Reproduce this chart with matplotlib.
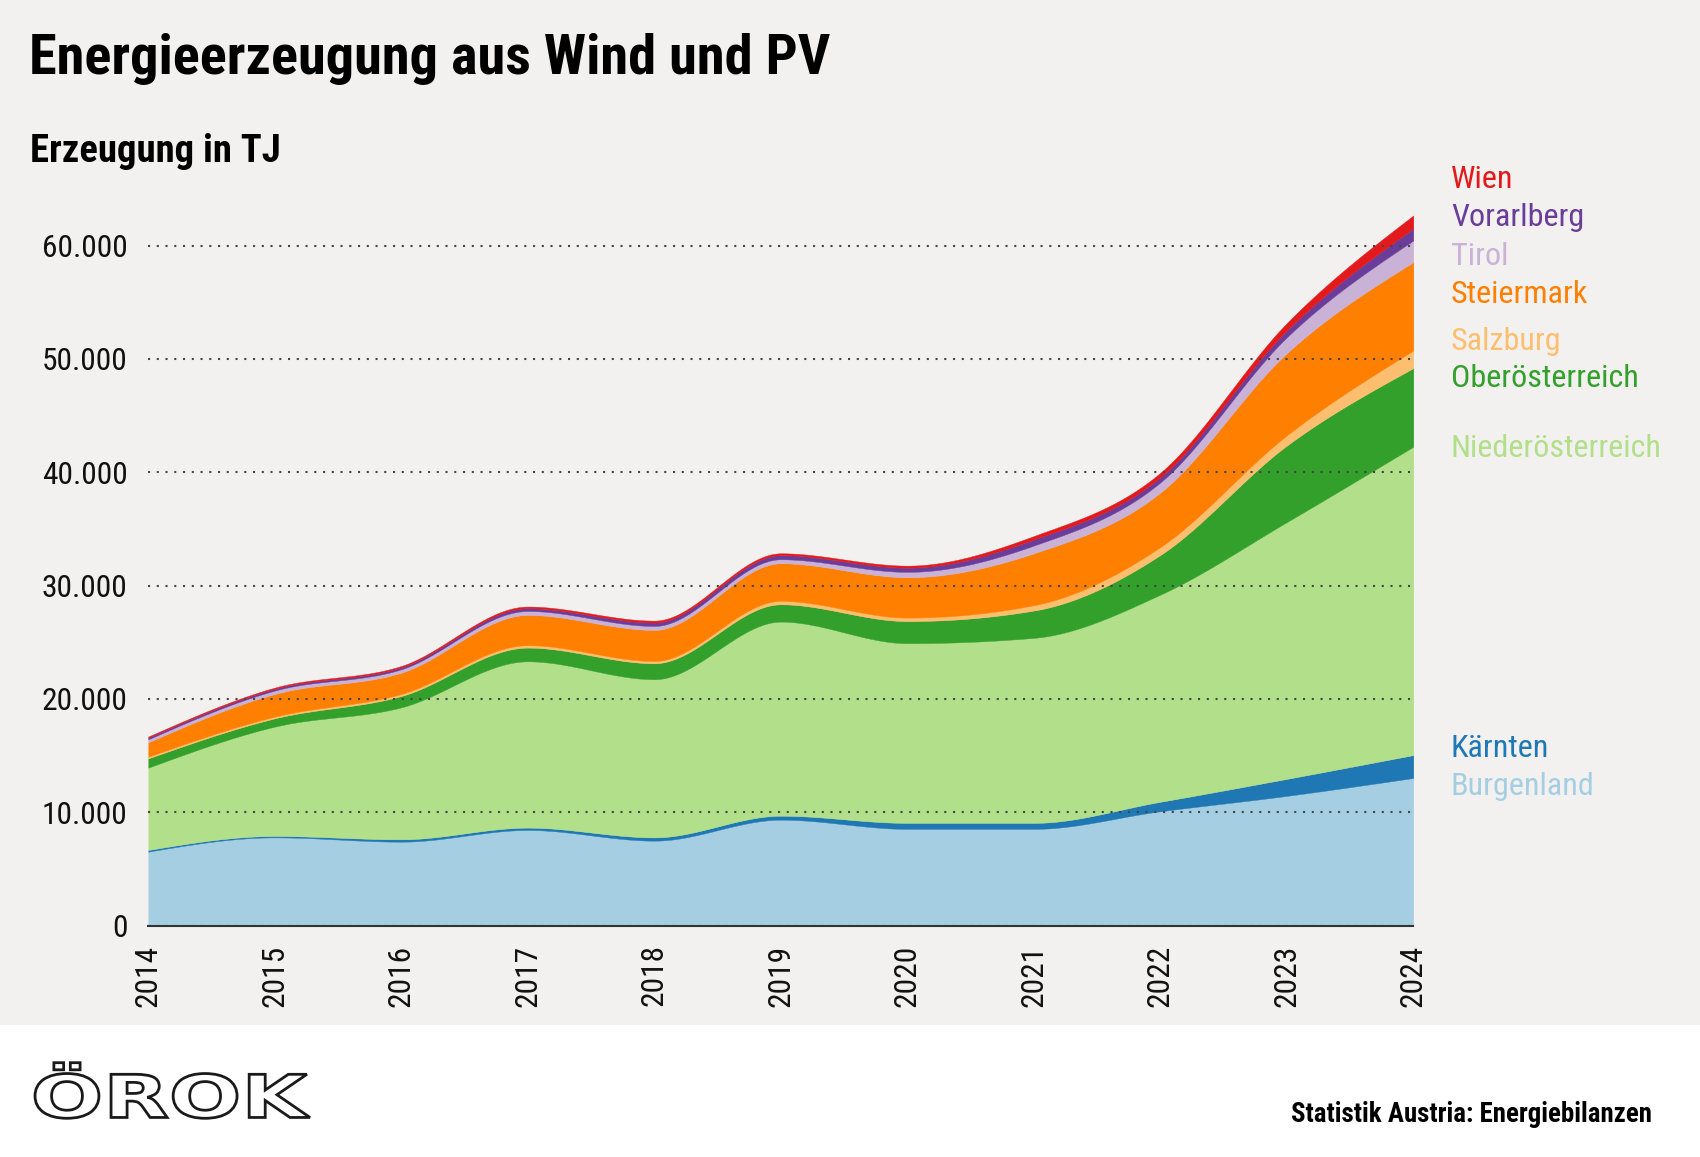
import numpy as np
import matplotlib
matplotlib.use("Agg")
import matplotlib.pyplot as plt
from matplotlib import font_manager as fm
from matplotlib.font_manager import FontProperties
from matplotlib.textpath import TextPath
from matplotlib.patches import PathPatch, Rectangle
from matplotlib.transforms import Affine2D
from matplotlib.ticker import FuncFormatter

# ---------------- data (TJ) ----------------
years = [2014, 2015, 2016, 2017, 2018, 2019, 2020, 2021, 2022, 2023, 2024]
burgenland       = [6530, 7790, 7410, 8440, 7500, 9350, 8540, 8540, 10090, 11450, 13030]
kaernten         = [150, 120, 210, 210, 290, 350, 530, 530, 840, 1500, 2020]
niederoesterreich = [7260, 9650, 11640, 14670, 13950, 17120, 15850, 16320, 18270, 22650, 27200]
oberoesterreich  = [820, 730, 1000, 1210, 1410, 1530, 1950, 2410, 3500, 6750, 6930]
salzburg         = [150, 150, 180, 210, 200, 300, 310, 470, 700, 900, 1560]
steiermark       = [1270, 2000, 1880, 2670, 2740, 3320, 3560, 4580, 4800, 7250, 7790]
tirol            = [260, 300, 300, 350, 350, 350, 470, 680, 900, 1400, 1910]
vorarlberg       = [150, 160, 170, 240, 300, 360, 370, 530, 450, 600, 1060]
wien             = [90, 100, 120, 150, 170, 170, 180, 310, 400, 650, 1150]

series_names = ["Burgenland", "Kärnten", "Niederösterreich", "Oberösterreich",
                "Salzburg", "Steiermark", "Tirol", "Vorarlberg", "Wien"]
series_values = [burgenland, kaernten, niederoesterreich, oberoesterreich,
                 salzburg, steiermark, tirol, vorarlberg, wien]
colors = ["#a6cee3", "#1f78b4", "#b2df8a", "#33a02c", "#fdbf6f",
          "#ff7f00", "#cab2d6", "#6a3d9a", "#e31a1c"]
y_ticks = [0, 10000, 20000, 30000, 40000, 50000, 60000]

title = "Energieerzeugung aus Wind und PV"
subtitle = "Erzeugung in TJ"
source = "Statistik Austria: Energiebilanzen"

# ---------------- fonts ----------------
def has_font(name):
    try:
        fm.findfont(FontProperties(family=name), fallback_to_default=False)
        return True
    except Exception:
        return False

BASE = "Roboto" if has_font("Roboto") else "DejaVu Sans"
COND = "Roboto Condensed" if has_font("Roboto Condensed") else BASE
plt.rcParams["font.family"] = [COND, "DejaVu Sans"]

# ---------------- helpers ----------------
def monotone_x(x, y, n=60):
    x = np.asarray(x, float)
    y = np.asarray(y, float)
    h = np.diff(x)
    s = np.diff(y) / h
    m = np.zeros_like(y)
    for i in range(1, len(x) - 1):
        s0, s1 = s[i - 1], s[i]
        h0, h1 = h[i - 1], h[i]
        p = (s0 * h1 + s1 * h0) / (h0 + h1)
        m[i] = (np.sign(s0) + np.sign(s1)) * min(abs(s0), abs(s1), 0.5 * abs(p))
    m[0] = (3 * s[0] - m[1]) / 2
    m[-1] = (3 * s[-1] - m[-2]) / 2
    xs, ys = [], []
    for i in range(len(x) - 1):
        t = np.linspace(0, 1, n, endpoint=(i == len(x) - 2))
        dx = h[i]
        h00 = 2 * t**3 - 3 * t**2 + 1
        h10 = t**3 - 2 * t**2 + t
        h01 = -2 * t**3 + 3 * t**2
        h11 = t**3 - t**2
        ys.append(h00 * y[i] + h10 * dx * m[i] + h01 * y[i + 1] + h11 * dx * m[i + 1])
        xs.append(x[i] + t * dx)
    return np.concatenate(xs), np.concatenate(ys)

# ---------------- figure ----------------
W, H = 1700, 1157
fig = plt.figure(figsize=(W / 100, H / 100), dpi=100)
fig.patch.set_facecolor("white")

# background / overlay axes in pixel coordinates (y measured from top)
bg = fig.add_axes([0, 0, 1, 1], zorder=0)
bg.set_xlim(0, W)
bg.set_ylim(H, 0)
bg.axis("off")
bg.add_patch(Rectangle((0, 0), W, 1025, facecolor="#f2f1ef", edgecolor="none"))

# main chart axes
x0_px, x1_px = 148.3, 1413.3
y0_px, y60_px = 925.7, 245.5
ymax = 65000
px_per = (y0_px - y60_px) / 60000
top_px = y0_px - ymax * px_per
ax = fig.add_axes([x0_px / W, 1 - y0_px / H, (x1_px - x0_px) / W, (y0_px - top_px) / H], zorder=1)
ax.patch.set_alpha(0)
ax.set_xlim(years[0], years[-1])
ax.set_ylim(0, ymax)

cum = np.cumsum(np.array(series_values, float), axis=0)
lower = np.zeros(len(years))
xs_lo, ys_lo = monotone_x(years, lower)
for i, (name, col) in enumerate(zip(series_names, colors)):
    xs_hi, ys_hi = monotone_x(years, cum[i])
    ax.fill_between(xs_hi, ys_lo, ys_hi, facecolor=col, edgecolor=col, linewidth=0.3, zorder=1)
    ys_lo = ys_hi

# grid
ax.set_yticks(y_ticks)
ax.yaxis.set_major_formatter(FuncFormatter(lambda v, p: f"{v:,.0f}".replace(",", ".")))
ax.set_axisbelow(False)
ax.grid(axis="y", color="#444444", linestyle=(0, (1, 3.2)), linewidth=1.5, zorder=3)
ax.grid(axis="x", visible=False)
ax.set_xticks(years)
ax.set_xticklabels([str(y) for y in years], rotation=90)

for sp in ["left", "right", "top"]:
    ax.spines[sp].set_visible(False)
ax.spines["bottom"].set_color("#333333")
ax.spines["bottom"].set_linewidth(1.5)
ax.spines["bottom"].set_zorder(4)

# tick label size fitted to width of "60.000" (~85 px)
renderer = fig.canvas.get_renderer()
probe = fig.text(0, 0, "60.000", fontsize=10, family=[COND, "DejaVu Sans"])
tick_fs = 10 * 84.6 / probe.get_window_extent(renderer).width
probe.remove()
ax.tick_params(axis="y", length=0, pad=15, labelsize=tick_fs, labelcolor="#111111")
ax.tick_params(axis="x", length=0, pad=13.5, labelsize=tick_fs, labelcolor="#111111")
for lbl in ax.get_xticklabels():
    lbl.set_va("top")

# ---------------- texts ----------------
def fit(t, width_px):
    bb = t.get_window_extent(renderer)
    t.set_fontsize(t.get_fontsize() * width_px / bb.width)

t_title = bg.text(29, 74, title, fontsize=30, fontweight="bold", color="#000000",
                  ha="left", va="baseline", family=[COND, "DejaVu Sans"])
fit(t_title, 802)
t_sub = bg.text(30, 162, subtitle, fontsize=20, fontweight="bold", color="#000000",
                ha="left", va="baseline", family=[COND, "DejaVu Sans"])
fit(t_sub, 250)
t_src = bg.text(1652, 1121.7, source, fontsize=16, fontweight="bold", color="#000000",
                ha="right", va="baseline", family=[COND, "DejaVu Sans"])
fit(t_src, 361)

# legend labels (right side, in series colours)
legend_baselines = {"Wien": 188.3, "Vorarlberg": 226, "Tirol": 265, "Steiermark": 302.7,
                    "Salzburg": 350, "Oberösterreich": 387, "Niederösterreich": 457,
                    "Kärnten": 757, "Burgenland": 795}
probe = bg.text(0, 0, "Niederösterreich", fontsize=10, family=[COND, "DejaVu Sans"])
leg_fs = 10 * 209 / probe.get_window_extent(renderer).width
probe.remove()
for name, col in zip(series_names, colors):
    bg.text(1451, legend_baselines[name], name, fontsize=leg_fs, color=col,
            ha="left", va="baseline", family=[COND, "DejaVu Sans"])

# ÖROK logo as outlined text path fitted to its box
tp = TextPath((0, 0), "ÖROK", size=100, prop=FontProperties(family="DejaVu Sans", weight="bold"))
ext = tp.get_extents()
bx0, by0, bx1, by1 = 35, 1062.7, 310, 1118.3
sx = (bx1 - bx0) / ext.width
sy = (by1 - by0) / ext.height
tr = Affine2D().translate(-ext.x0, -ext.y1).scale(sx, -sy).translate(bx0, by0)
bg.add_patch(PathPatch(tr.transform_path(tp), facecolor="white", edgecolor="#1a1a1a",
                       linewidth=2.0, zorder=2))

fig.savefig("out.png", dpi=100, facecolor=fig.get_facecolor())
